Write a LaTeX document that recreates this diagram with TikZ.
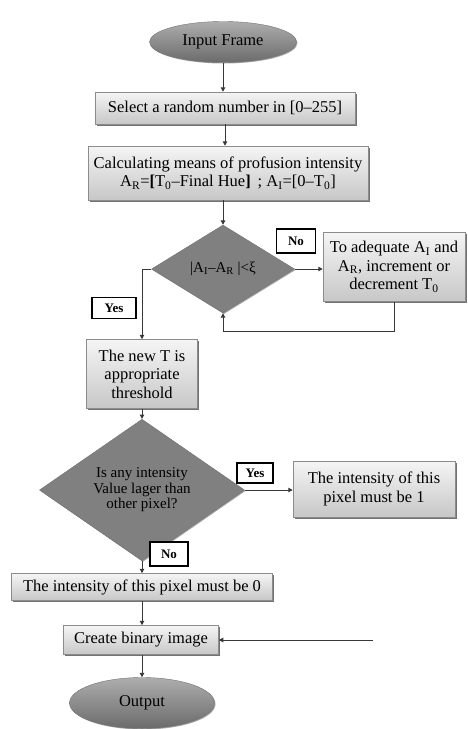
\documentclass[tikz,border=0pt]{standalone}
\usepackage{fontspec}
\setmainfont{Liberation Serif}
\usetikzlibrary{shapes.geometric,shadows,arrows.meta}
\begin{document}
\begin{tikzpicture}[x=1pt,y=-1pt,
  font=\fontsize{16.5}{18.5}\selectfont,
  proc/.style={draw=black!45, line width=0.5pt, top color=black!4, bottom color=black!22,
    drop shadow={shadow xshift=1.6pt, shadow yshift=-1.6pt, fill=black!55, opacity=1},
    inner sep=0pt, align=center},
  dec/.style={diamond, draw=black!55, fill=black!50, inner sep=0pt, align=center,
    drop shadow={shadow xshift=1pt, shadow yshift=-1pt, fill=black!35, opacity=1}},
  term/.style={ellipse, draw=black!55, top color=black!32, bottom color=black!58, inner sep=0pt,
    drop shadow={shadow xshift=1pt, shadow yshift=-1pt, fill=black!35, opacity=1}},
  lab/.style={draw=black, line width=1.2pt, fill=white, inner sep=0pt,
    font=\fontsize{13}{14}\selectfont\bfseries},
  arr/.style={draw=black!78, line width=1pt, -{Triangle[length=4.5pt,width=4.5pt]}}
]
\useasboundingbox (0,0) rectangle (467,729);

\node[term, minimum width=147pt, minimum height=41pt] (in) at (223,42) {Input Frame};
\node[proc, minimum width=260pt, minimum height=32pt] (sel) at (225,108) {Select a random number in [0–255]};
\node[proc, minimum width=280pt, minimum height=54pt] (calc) at (228,173)
  {Calculating means of profusion intensity\\
   A\textsubscript{R}=\textbf{[}T\textsubscript{0}–Final Hue\textbf{]} \,; A\textsubscript{I}=[0–T\textsubscript{0}]};
\node[dec, minimum width=143pt, minimum height=88pt, font=\fontsize{15}{16}\selectfont] (d1) at (223,269)
  {|A\textsubscript{I}–A\textsubscript{R} |<ξ};
\node[lab, minimum width=39pt, minimum height=24pt] (no1) at (296,241) {No};
\node[proc, minimum width=142pt, minimum height=69pt] (adq) at (394,267)
  {To adequate A\textsubscript{I} and\\ A\textsubscript{R}, increment or\\ decrement T\textsubscript{0}};
\node[lab, minimum width=44pt, minimum height=21pt] (yes1) at (114,308) {Yes};
\node[proc, minimum width=111pt, minimum height=69pt] (thr) at (142,374)
  {The new T is\\ appropriate\\ threshold};
\node[dec, minimum width=205pt, minimum height=107pt, font=\fontsize{15}{15.5}\selectfont] (d2) at (142,490)
  {Is any intensity\\ Value lager than\\ other pixel?};
\node[lab, minimum width=36pt, minimum height=20pt] (yes2) at (255,473) {Yes};
\node[proc, minimum width=162pt, minimum height=56pt] (one) at (374,489)
  {The intensity of this\\ pixel must be 1};
\node[lab, minimum width=38pt, minimum height=24pt] (no2) at (169,554) {No};
\node[proc, minimum width=261pt, minimum height=27pt] (zero) at (142,587)
  {The intensity of this pixel must be 0};
\node[proc, minimum width=155pt, minimum height=29pt] (bin) at (141,640) {Create binary image};
\node[term, minimum width=145pt, minimum height=51pt] (out) at (142,703) {Output};
\coordinate (free) at (373,640);

\draw[arr] (in) -- (in |- sel.north);
\draw[arr] (sel.south -| 225,0) -- (calc.north -| 225,0);
\draw[arr] (calc.south -| d1.north) -- (d1.north);
\draw[arr] (d1.east) -- (d1.east -| adq.west);
\draw[arr] (adq.south) -- ++(0,30) -| (d1.south);
\draw[arr] (d1.west) -| (thr.north);
\draw[arr] (thr.south) -- (d2.north);
\draw[arr] (d2.east) -- (d2.east -| one.west);
\draw[arr] (d2.south) -- (zero.north -| d2.south);
\draw[arr] (zero.south) -- (bin.north -| zero.south);
\draw[arr] (free) -- (bin.east);
\draw[arr] (bin.south -| out.north) -- (out.north);
\end{tikzpicture}
\end{document}
